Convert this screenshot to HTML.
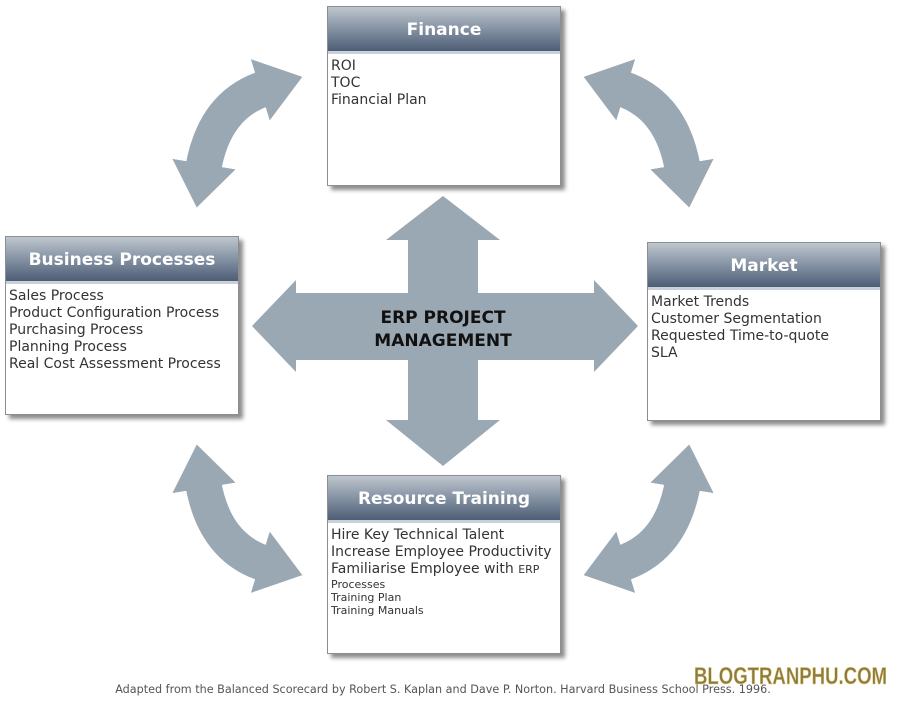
<!DOCTYPE html>
<html><head><style>
body{margin:0;background:#fff;width:901px;height:701px;overflow:hidden;position:relative;font-family:"DejaVu Sans","Liberation Sans",sans-serif}
.box{position:absolute;width:232px;background:#fff;border:1px solid #8a8f96;box-shadow:4px 4px 4px rgba(0,0,0,0.45)}
.hd{height:44px;background:linear-gradient(#bfc6cd,#8a97a8 45%,#4d5d74);color:#fff;font-weight:bold;font-size:17px;text-align:center;line-height:46px;border-bottom:3px solid #c9d0d8}
.bd{padding:4px 3px;font-size:14px;line-height:17px;color:#333;white-space:nowrap}
.sm{font-size:11px;line-height:13px}
svg{position:absolute;left:0;top:0}
</style></head><body>
<svg width="901" height="701">
<defs>
<marker id="ah" markerUnits="userSpaceOnUse" markerWidth="70" markerHeight="70" refX="6" refY="35" orient="auto-start-reverse">
<polygon points="0,3 44,35 0,67" fill="#9aa8b4"/>
</marker>
</defs>
<g fill="none" stroke="#9aa8b4" stroke-width="36">
<path d="M203 170 Q214 104 266 88" marker-start="url(#ah)" marker-end="url(#ah)"/>
<path d="M683 170 Q672 104 620 88" marker-start="url(#ah)" marker-end="url(#ah)"/>
<path d="M203 482 Q214 548 266 564" marker-start="url(#ah)" marker-end="url(#ah)"/>
<path d="M683 482 Q672 548 620 564" marker-start="url(#ah)" marker-end="url(#ah)"/>
</g>
<polygon fill="#9aa8b4" points="443,196 500,240 478,240 478,293 594,293 594,280 638,326 594,372 594,360 478,360 478,420 500,420 443,466 386,420 408,420 408,360 296,360 296,372 252,326 296,280 296,293 408,293 408,240 386,240"/>
<text x="443" y="323" text-anchor="middle" font-family="DejaVu Sans,sans-serif" font-weight="bold" font-size="17" fill="#111">ERP PROJECT</text>
<text x="443" y="346" text-anchor="middle" font-family="DejaVu Sans,sans-serif" font-weight="bold" font-size="17" fill="#111">MANAGEMENT</text>
<text x="443" y="693" text-anchor="middle" font-family="DejaVu Sans,sans-serif" font-size="11.2" fill="#555">Adapted from the Balanced Scorecard by Robert S. Kaplan and Dave P. Norton. Harvard Business School Press. 1996.</text>
<text x="887" y="684" text-anchor="end" font-family="Liberation Sans,sans-serif" font-weight="bold" font-size="24" fill="#8f7a3e" stroke="#e0cf80" stroke-width="0.6" textLength="193" lengthAdjust="spacingAndGlyphs">BLOGTRANPHU.COM</text>
</svg>
<div class="box" style="left:327px;top:6px;height:178px"><div class="hd">Finance</div><div class="bd">ROI<br>TOC<br>Financial Plan</div></div>
<div class="box" style="left:5px;top:236px;height:177px"><div class="hd">Business Processes</div><div class="bd">Sales Process<br>Product Configuration Process<br>Purchasing Process<br>Planning Process<br>Real Cost Assessment Process</div></div>
<div class="box" style="left:647px;top:242px;height:177px"><div class="hd">Market</div><div class="bd">Market Trends<br>Customer Segmentation<br>Requested Time-to-quote<br>SLA</div></div>
<div class="box" style="left:327px;top:475px;height:177px"><div class="hd">Resource Training</div><div class="bd">Hire Key Technical Talent<br>Increase Employee Productivity<br>Familiarise Employee with <span class="sm">ERP</span><div class="sm">Processes<br>Training Plan<br>Training Manuals</div></div></div>
</body></html>
